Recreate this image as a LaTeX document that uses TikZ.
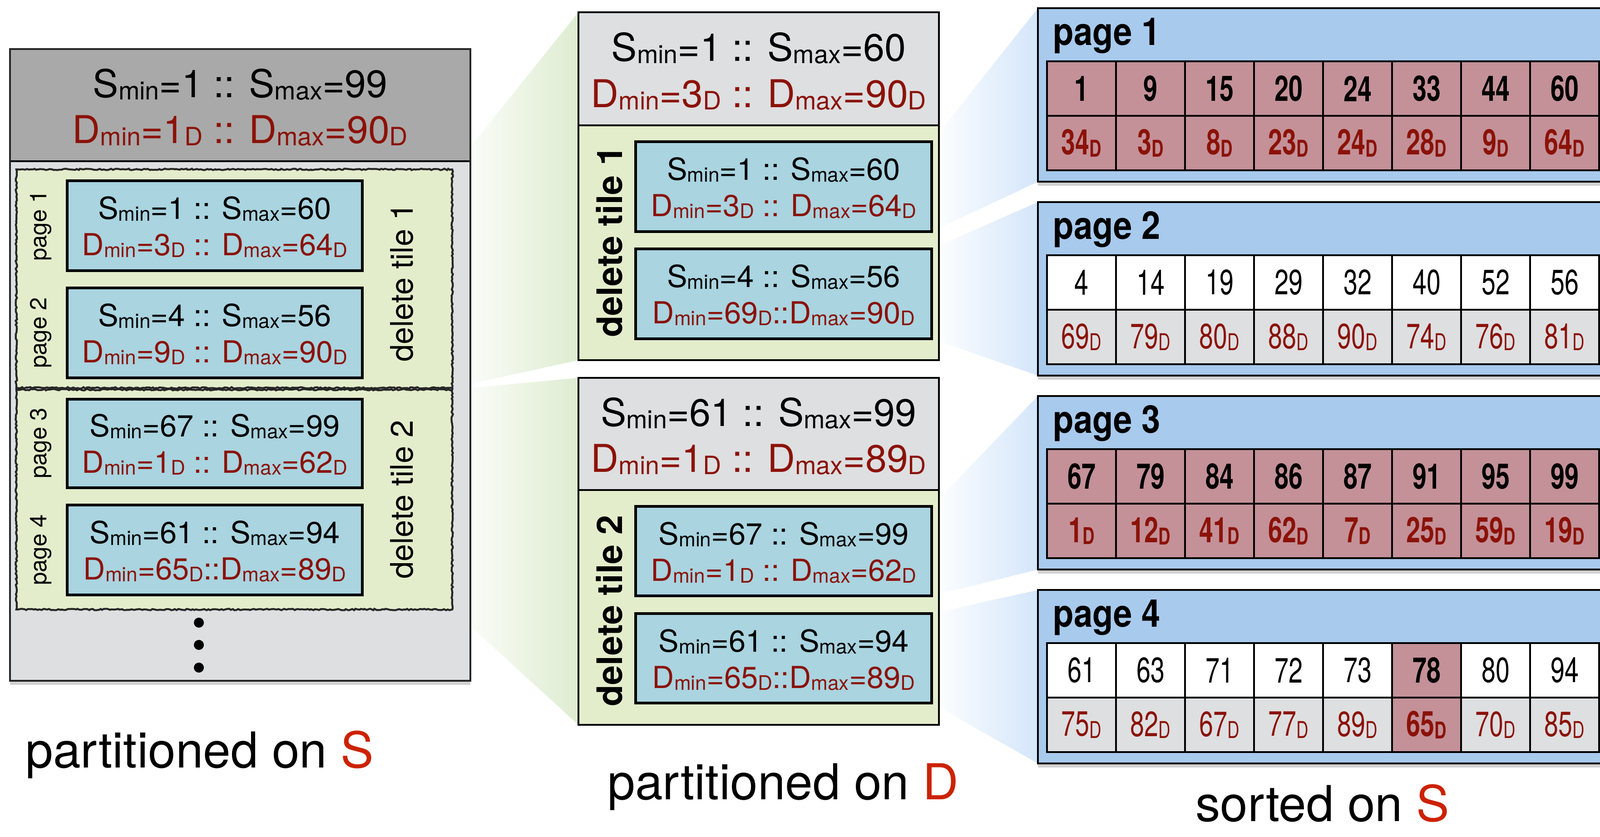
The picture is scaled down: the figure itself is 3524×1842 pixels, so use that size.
\documentclass[tikz,border=0pt]{standalone}
\usepackage{graphicx}
\usepackage{fontspec}
\setmainfont{TeX Gyre Heros}
\newfontfamily\cnd[FakeStretch=0.72]{TeX Gyre Heros}
\newfontfamily\ttl[FakeStretch=0.88]{TeX Gyre Heros}
\usetikzlibrary{shadows,decorations.pathmorphing}
\definecolor{hdrdark}{RGB}{169,169,169}
\definecolor{lgray}{RGB}{222,223,225}
\definecolor{tgreen}{RGB}{228,237,203}
\definecolor{bbox}{RGB}{169,212,224}
\definecolor{pblue}{RGB}{168,202,237}
\definecolor{cpink}{RGB}{196,145,152}
\definecolor{dred}{RGB}{139,18,8}
\definecolor{capred}{RGB}{204,34,0}
\definecolor{wgreen}{RGB}{222,236,208}
\definecolor{wblue}{RGB}{212,230,250}
\newcommand\lw[1]{\raisebox{-0.06em}{\scalebox{0.66}{#1}}}
\newcommand\smm[2]{S\lw{min}=#1 :: S\lw{max}=#2}
\newcommand\dmm[2]{D\lw{min}=#1\lw{D} :: D\lw{max}=#2\lw{D}}
\newcommand\dmmt[2]{D\lw{min}=#1\lw{D}::D\lw{max}=#2\lw{D}}
\newcommand\cellbf{\cnd\bfseries\fontsize{22}{26}\selectfont}
\newcommand\cellrg{\cnd\fontsize{22}{26}\selectfont}
\begin{document}
\begin{tikzpicture}[x=0.01cm,y=-0.01cm,
  bx/.style={line width=1.3pt},
  txt/.style={inner sep=0pt, anchor=base},
  hdf/.style={txt, font=\fontsize{24}{29}\selectfont},
  bxf/.style={txt, font=\fontsize{19}{23}\selectfont},
  tile/.style={fill=tgreen, draw=black!85, line width=1.2pt, decorate, decoration={random steps, segment length=1.2pt, amplitude=0.45pt}},
  bluebox/.style={fill=bbox, draw=black, line width=1.6pt},
  pagebox/.style={fill=pblue, draw=black, line width=1.4pt, drop shadow={shadow xshift=0pt, shadow yshift=-2.5pt, opacity=0.3, fill=black!60}},
  cell/.style={draw, line width=1.3pt, minimum width=1.52cm, minimum height=1.2cm, inner sep=0pt, anchor=center},
  lbl/.style={rotate=90, inner sep=0pt},
  captxt/.style={txt, font=\fontsize{31}{36}\selectfont}
]
\useasboundingbox (0,0) rectangle (3524,1842);
\clip (0,0) rectangle (3524,1842);

% zoom wedges
\shade[left color=white, right color=wgreen] (996,373) -- (1274,27) -- (1274,793) -- (996,854) -- cycle;
\shade[left color=white, right color=wgreen] (996,858) -- (1274,832) -- (1274,1596) -- (996,1342) -- cycle;
\foreach \ya/\yb/\T in {312/510/18, 548/746/445, 1115/1312/872, 1351/1548/1299}
  \shade[left color=white, right color=wblue] (2052,\ya) -- (2286,\T) -- (2286,\T+382) -- (2052,\yb) -- cycle;

% ---------- left panel ----------
\fill[lgray, drop shadow={shadow xshift=0pt, shadow yshift=-2.5pt, opacity=0.3, fill=black!60}] (22,108) rectangle (1036,1499);
\fill[hdrdark] (22,108) rectangle (1036,355);
\draw[tile] (36,373) rectangle (996,854);
\draw[tile] (36,858) rectangle (996,1342);
\draw[bx] (22,355) -- (1036,355);
\draw[bx, draw=black!85] (22,108) rectangle (1036,1499);

\node[hdf] (lh1) at (529,214) {\smm{1}{99}};
\node[hdf, text=dred] (lh2) at (529,315) {\dmm{1}{90}};

\draw[bluebox] (148,398) rectangle (798,596);
\draw[bluebox] (148,634) rectangle (798,832);
\draw[bluebox] (148,879) rectangle (798,1074);
\draw[bluebox] (148,1112) rectangle (798,1310);

\node[bxf] (l1a) at (473,482) {\smm{1}{60}};
\node[bxf, text=dred] (l1b) at (473,562) {\dmm{3}{64}};
\node[bxf] (l2a) at (473,718) {\smm{4}{56}};
\node[bxf, text=dred] (l2b) at (473,798) {\dmm{9}{90}};
\node[bxf] (l3a) at (473,961) {\smm{67}{99}};
\node[bxf, text=dred] (l3b) at (473,1041) {\dmm{1}{62}};
\node[bxf] (l4a) at (473,1196) {\smm{61}{94}};
\node[bxf, text=dred] (l4b) at (473,1276) {\dmmt{65}{89}};

\node[lbl, font=\fontsize{14.5}{16}\selectfont] (lp1) at (90,497) {page 1};
\node[lbl, font=\fontsize{14.5}{16}\selectfont] (lp2) at (90,733) {page 2};
\node[lbl, font=\fontsize{14.5}{16}\selectfont] (lp3) at (90,976) {page 3};
\node[lbl, font=\fontsize{14.5}{16}\selectfont] (lp4) at (90,1211) {page 4};

\node[lbl, font=\fontsize{19.5}{22}\selectfont] (ldt1) at (885,622) {delete tile 1};
\node[lbl, font=\fontsize{19.5}{22}\selectfont] (ldt2) at (885,1100) {delete tile 2};

\node[circle, fill=black, inner sep=0pt, minimum size=0.22cm] (dot1) at (438,1371) {};
\node[circle, fill=black, inner sep=0pt, minimum size=0.22cm] (dot2) at (438,1420) {};
\node[circle, fill=black, inner sep=0pt, minimum size=0.22cm] (dot3) at (438,1470) {};

\node[captxt] (capl) at (440,1690) {partitioned on \textcolor{capred}{S}};

% ---------- middle panel ----------
\fill[tgreen] (1274,27) rectangle (2068,793);
\fill[lgray] (1274,27) rectangle (2068,276);
\draw[bx] (1274,276) -- (2068,276);
\draw[bx] (1274,27) rectangle (2068,793);
\fill[tgreen] (1274,832) rectangle (2068,1596);
\fill[lgray] (1274,832) rectangle (2068,1079);
\draw[bx] (1274,1079) -- (2068,1079);
\draw[bx] (1274,832) rectangle (2068,1596);

\node[hdf] (m1h1) at (1671,134) {\smm{1}{60}};
\node[hdf, text=dred] (m1h2) at (1671,236) {\dmm{3}{90}};
\node[hdf] (m2h1) at (1671,938) {\smm{61}{99}};
\node[hdf, text=dred] (m2h2) at (1671,1039) {\dmm{1}{89}};

\draw[bluebox] (1400,312) rectangle (2052,510);
\draw[bluebox] (1400,548) rectangle (2052,746);
\draw[bluebox] (1400,1115) rectangle (2052,1312);
\draw[bluebox] (1400,1351) rectangle (2052,1548);

\node[bxf] (m1a) at (1726,396) {\smm{1}{60}};
\node[bxf, text=dred] (m1b) at (1726,476) {\dmm{3}{64}};
\node[bxf] (m2a) at (1726,632) {\smm{4}{56}};
\node[bxf, text=dred] (m2b) at (1726,712) {\dmmt{69}{90}};
\node[bxf] (m3a) at (1726,1199) {\smm{67}{99}};
\node[bxf, text=dred] (m3b) at (1726,1279) {\dmm{1}{62}};
\node[bxf] (m4a) at (1726,1435) {\smm{61}{94}};
\node[bxf, text=dred] (m4b) at (1726,1515) {\dmmt{65}{89}};

\node[lbl, font=\bfseries\fontsize{22}{26}\selectfont] (mdt1) at (1342,532) {delete tile 1};
\node[lbl, font=\bfseries\fontsize{22}{26}\selectfont] (mdt2) at (1342,1345) {delete tile 2};

\node[captxt] (capm) at (1725,1760) {partitioned on \textcolor{capred}{D}};

% ---------- right panel ----------
\foreach \T in {18,445,872,1299}
  \draw[pagebox] (2286,\T) rectangle (3600,\T+382);
\foreach \T/\n in {18/1,445/2,872/3,1299/4}
  \node[txt, anchor=base west, font=\ttl\bfseries\fontsize{24}{28}\selectfont] (pt\n) at (2319,\T+81) {page \n};

% page 1
\foreach \a/\b [count=\i from 0] in {1/34,9/3,15/8,20/23,24/24,33/28,44/9,60/64} {
  \node[cell, fill=cpink, font=\cellbf] (p1a\i) at (2382+152*\i,195) {\a};
  \node[cell, fill=cpink, font=\cellbf, text=dred] (p1b\i) at (2382+152*\i,315) {\b\lw{D}};
}
% page 2
\foreach \a/\b [count=\i from 0] in {4/69,14/79,19/80,29/88,32/90,40/74,52/76,56/81} {
  \node[cell, fill=white, font=\cellrg] (p2a\i) at (2382+152*\i,622) {\a};
  \node[cell, fill=lgray, font=\cellrg, text=dred] (p2b\i) at (2382+152*\i,742) {\b\lw{D}};
}
% page 3
\foreach \a/\b [count=\i from 0] in {67/1,79/12,84/41,86/62,87/7,91/25,95/59,99/19} {
  \node[cell, fill=cpink, font=\cellbf] (p3a\i) at (2382+152*\i,1049) {\a};
  \node[cell, fill=cpink, font=\cellbf, text=dred] (p3b\i) at (2382+152*\i,1169) {\b\lw{D}};
}
% page 4
\foreach \a/\b [count=\i from 0] in {61/75,63/82,71/67,72/77,73/89,78/65,80/70,94/85} {
  \ifnum\i=5
    \node[cell, fill=cpink, font=\cellbf] (p4a\i) at (2382+152*\i,1476) {\a};
    \node[cell, fill=cpink, font=\cellbf, text=dred] (p4b\i) at (2382+152*\i,1596) {\b\lw{D}};
  \else
    \node[cell, fill=white, font=\cellrg] (p4a\i) at (2382+152*\i,1476) {\a};
    \node[cell, fill=lgray, font=\cellrg, text=dred] (p4b\i) at (2382+152*\i,1596) {\b\lw{D}};
  \fi
}

\node[captxt] (capr) at (2913,1808) {sorted on \textcolor{capred}{S}};
\end{tikzpicture}
\end{document}
